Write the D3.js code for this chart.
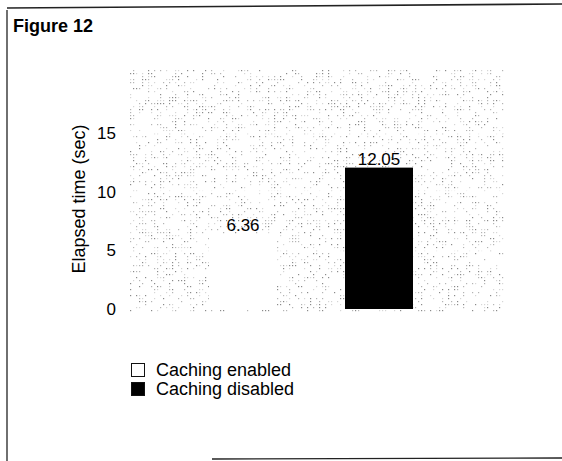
<!DOCTYPE html>
<html>
<head>
<meta charset="utf-8">
<script src="https://cdn.jsdelivr.net/npm/d3@7"></script>
<style>
  html, body { margin: 0; padding: 0; background: #fff; }
  svg { display: block; }
  text { font-family: "Liberation Sans", Arial, Helvetica, sans-serif; fill: #000; }
</style>
</head>
<body>
<svg id="chart" width="562" height="461"></svg>
<script>
// Elapsed time with and without caching
const categories = ["Caching enabled", "Caching disabled"];
const elapsed = [6.36, 12.05];
const valueLabels = ["6.36", "12.05"];
const barFills = ["#ffffff", "#000000"];
const yTicks = [0, 5, 10, 15];
const title = "Figure 12";
const yTitle = "Elapsed time (sec)";

const svg = d3.select("#chart");

// Figure frame (open on the lower left, as printed)
const frame = svg.append("g").attr("stroke", "#222").attr("fill", "none");
frame.append("line").attr("x1", 7).attr("y1", 8).attr("x2", 562).attr("y2", 4).attr("stroke-width", 1.6);
frame.append("line").attr("x1", 7).attr("y1", 10).attr("x2", 7).attr("y2", 461).attr("stroke-width", 1.3);
frame.append("line").attr("x1", 212).attr("y1", 459).attr("x2", 562).attr("y2", 458).attr("stroke-width", 1.4);

svg.append("text")
  .attr("x", 13).attr("y", 32)
  .attr("font-size", 18).attr("font-weight", "bold")
  .text(title);

// Scales
const y = d3.scaleLinear().domain([0, 15]).range([309, 133]);
const x = d3.scaleBand().domain(categories).range([141, 481]).paddingInner(0.5).paddingOuter(0.5);

// Stippled plot background
const plot = { x0: 130, x1: 503, y0: 70, y1: y(0) + 3 };
function hash(i, j) {
  let h = (i * 374761393 + j * 668265263) | 0;
  h = (h ^ (h >>> 13)) * 1274126177 | 0;
  return ((h ^ (h >>> 16)) >>> 0) / 4294967296;
}
const dots = [];
for (let gx = plot.x0; gx < plot.x1; gx += 3) {
  for (let gy = plot.y0; gy < plot.y1; gy += 3) {
    const r = hash(gx, gy);
    if (r < 0.32) dots.push({ x: gx, y: gy, c: r < 0.09 ? "#8a8a8a" : (r < 0.2 ? "#b4b4b4" : "#d6d6d6") });
  }
}
const stipple = svg.append("g");
stipple.selectAll("rect").data(dots).join("rect")
  .attr("x", d => d.x).attr("y", d => d.y)
  .attr("width", 1.2).attr("height", 1.2)
  .attr("fill", d => d.c);

// Light gaps in the stipple at the tick values
stipple.append("g").selectAll("rect").data(yTicks.filter(t => t > 0)).join("rect")
  .attr("x", plot.x0).attr("width", plot.x1 - plot.x0)
  .attr("y", d => y(d) - 2).attr("height", 3)
  .attr("fill", "#fff").attr("opacity", 0.75);

// Bars
svg.append("g").selectAll("rect").data(elapsed).join("rect")
  .attr("x", (d, i) => x(categories[i]))
  .attr("width", x.bandwidth())
  .attr("y", d => y(d))
  .attr("height", d => y(0) - y(d))
  .attr("fill", (d, i) => barFills[i]);

// Value labels
svg.append("g").selectAll("text").data(elapsed).join("text")
  .attr("x", (d, i) => x(categories[i]) + x.bandwidth() / 2)
  .attr("y", d => y(d) - 3)
  .attr("text-anchor", "middle")
  .attr("font-size", 17)
  .text((d, i) => valueLabels[i]);

// Y axis: labels only
const yAxis = d3.axisLeft(y).tickValues(yTicks).tickSize(0).tickPadding(0).tickFormat(d3.format("d"));
const ya = svg.append("g").attr("transform", "translate(116,0)").call(yAxis);
ya.select(".domain").remove();
ya.selectAll("text")
  .attr("font-size", 17)
  .attr("font-family", "Liberation Sans, Arial, sans-serif")
  .attr("fill", "#000");

svg.append("text")
  .attr("transform", "translate(85,199) rotate(-90)")
  .attr("text-anchor", "middle")
  .attr("font-size", 18)
  .text(yTitle);

// Legend
const legend = svg.append("g").selectAll("g").data(categories).join("g")
  .attr("transform", (d, i) => `translate(131,${363 + i * 19})`);
legend.append("rect")
  .attr("x", 0.5).attr("y", 0.5).attr("width", 13).attr("height", 13)
  .attr("fill", (d, i) => barFills[i])
  .attr("stroke", "#111").attr("stroke-width", 1);
legend.append("text")
  .attr("x", 25).attr("y", 13)
  .attr("font-size", 18)
  .text(d => d);
</script>
</body>
</html>
